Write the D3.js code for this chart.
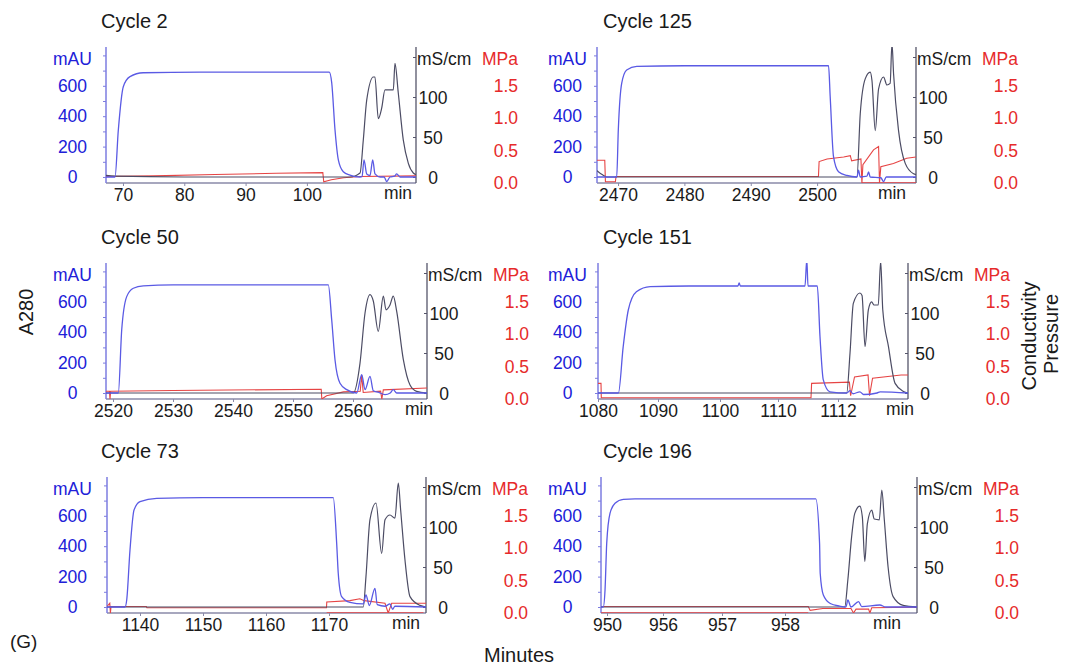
<!DOCTYPE html>
<html>
<head>
<meta charset="utf-8">
<script src="https://cdn.jsdelivr.net/npm/d3@7"></script>
<style>
body{margin:0;background:#fff;}
svg{display:block;font-family:"Liberation Sans",Arial,Helvetica,sans-serif;}
</style>
</head>
<body>
<svg id="chart" width="1072" height="666"></svg>
<script>
// ---- data: [minute, value] ----
const titles = ['Cycle 2', 'Cycle 125', 'Cycle 50', 'Cycle 151', 'Cycle 73', 'Cycle 196'];
const uvTicks = [0, 200, 400, 600];
const condTicks = [0, 50, 100];
const presTicks = [0, 0.5, 1.0, 1.5];

const xTicks2 = [70, 80, 90, 100];
const xTicks125 = [2470, 2480, 2490, 2500];
const xTicks50 = [2520, 2530, 2540, 2550, 2560];
const xTicks151 = [1080, 1090, 1100, 1110, 1112];
const xTicks73 = [1140, 1150, 1160, 1170];
const xTicks196 = [950, 956, 957, 958];

// Cycle 2
const uv2 = [[67.23,0],[68.7,0],[69.24,309],[70.05,594],[71.14,660],[73.31,686],[82.56,690],[103.66,690],[104.05,620],[104.59,309],[105.13,113],[105.94,35],[107.03,13],[108.66,0],[109.0,2],[109.32,113],[109.76,20],[110.3,10],[110.74,113],[111.11,20],[111.93,0],[112.6,0],[113.02,-30],[113.56,0],[114.3,5],[114.65,20],[115.19,0],[117.8,0]];
const cond2 = [[67.23,2],[68.7,1],[80,0],[107.03,0],[108.67,5],[109.2,46],[109.76,96],[110.84,125],[111.1,125],[111.65,73],[112.2,86],[112.74,109],[114.1,109],[114.37,142],[114.91,105],[115.73,46],[116.55,17],[117.36,5],[117.8,3]];
const pres2 = [[67.23,0.1],[75,0.11],[85,0.13],[95,0.15],[102.6,0.16],[102.75,0.02],[104,0.05],[106,0.08],[108.66,0.1],[117.8,0.11]];
const low2 = [];

// Cycle 125
const uv125 = [[2466.83,0],[2469.8,0],[2470.04,309],[2470.55,616],[2471.3,704],[2472.82,728],[2480,732],[2501.72,732],[2501.97,528],[2502.47,134],[2503.22,35],[2504.49,10],[2506.0,0],[2506.24,45],[2506.5,0],[2507.5,5],[2507.75,33],[2508.0,0],[2509.6,-5],[2510.01,-30],[2510.42,0],[2514.9,0]];
const cond125 = [[2466.83,8],[2467.6,3],[2468.3,0],[2506.0,0],[2506.5,79],[2507.26,123],[2508.0,131],[2508.26,121],[2508.76,58],[2509.26,110],[2510.01,125],[2510.52,115],[2511.0,117],[2511.28,167],[2511.52,129],[2512.27,58],[2513.28,17],[2514.53,4],[2514.9,3]];
const pres125 = [[2466.83,0.35],[2468.0,0.35],[2468.1,0.02],[2469.6,0.02],[2469.7,0.1],[2500.2,0.1],[2500.3,0.33],[2501.5,0.37],[2504.0,0.4],[2505.0,0.42],[2505.2,0.34],[2506.6,0.37],[2506.75,0.0],[2506.9,0.28],[2508.5,0.51],[2509.26,0.56],[2509.4,0.0],[2509.6,0.25],[2511.5,0.3],[2513.5,0.38],[2514.9,0.4]];
const low125 = [[2506.75,0],[2514.9,0]];

// Cycle 50
const uv50 = [[2518.83,0],[2520.88,0],[2521.45,416],[2522.28,634],[2523.38,689],[2525.05,705],[2530,711],[2555.88,711],[2556.45,480],[2557.0,217],[2557.83,64],[2558.95,22],[2560.62,0],[2561.45,120],[2562.0,22],[2562.83,109],[2563.38,15],[2564.21,5],[2565.33,-11],[2566.2,0],[2566.71,22],[2567.28,0],[2572.33,0]];
const cond50 = [[2518.83,0],[2560.05,0],[2561.16,37],[2562.0,100],[2562.83,123],[2563.38,115],[2564.21,77],[2565.05,121],[2565.5,104],[2566.16,110],[2566.71,121],[2567.28,102],[2568.38,42],[2569.5,10],[2570.61,2],[2572.33,0]];
const pres50 = [[2518.83,0.12],[2519.4,0.12],[2519.5,0.0],[2519.6,0.12],[2530,0.13],[2554.7,0.15],[2554.8,0.0],[2555.6,0.05],[2558.4,0.11],[2561.2,0.12],[2561.45,0.37],[2561.7,0.1],[2564.6,0.12],[2564.8,0.0],[2565.05,0.14],[2572.33,0.17]];
const low50 = [];

// Cycle 151
const uv151 = [[1080,0],[1083.4,0],[1084.2,305],[1085.05,546],[1086.4,666],[1088.7,700],[1095,704],[1103.1,704],[1103.3,725],[1103.5,704],[1110.9,704],[1110.96,880],[1111.0,704],[1111.31,704],[1111.4,370],[1111.51,86],[1111.73,8],[1112.29,0],[1112.4,15],[1112.5,-5],[1112.73,8],[1112.85,-10],[1113.3,0],[1113.4,8],[1114.33,0]];
const cond151 = [[1080,0],[1112.29,0],[1112.4,50],[1112.51,112],[1112.73,125],[1112.8,122],[1112.9,58],[1113.01,104],[1113.12,114],[1113.2,110],[1113.34,110],[1113.42,165],[1113.49,104],[1113.68,58],[1113.9,12],[1114.18,2],[1114.33,0]];
const pres151 = [[1080,0.24],[1080.5,0.24],[1080.55,0.02],[1111.1,0.02],[1111.12,0.24],[1112.38,0.26],[1112.42,0.05],[1112.55,0.34],[1113.0,0.37],[1113.05,0.05],[1113.15,0.32],[1114.1,0.37],[1114.33,0.37]];
const low151 = [];

// Cycle 73
const uv73 = [[1134.76,0],[1137.62,0],[1137.89,46],[1138.41,375],[1139.05,638],[1140.0,693],[1142.65,715],[1150,719],[1170.68,719],[1171.22,419],[1171.47,222],[1172.01,68],[1173.33,30],[1175.44,20],[1175.87,79],[1176.4,10],[1177.3,123],[1177.66,15],[1178.89,5],[1179.68,20],[1180.1,-15],[1180.47,5],[1185.4,0]];
const cond73 = [[1134.76,0],[1175.44,0],[1175.87,38],[1176.5,109],[1177.46,130],[1178.36,67],[1178.89,109],[1179.68,115],[1180.47,111],[1181.0,155],[1181.38,121],[1182.06,59],[1182.86,13],[1184.44,2],[1185.4,0]];
const pres73 = [[1134.76,0.1],[1135.2,0.15],[1135.3,0.0],[1135.4,0.1],[1141.0,0.1],[1141.1,0.08],[1169.6,0.08],[1169.65,0.17],[1173.33,0.19],[1174.9,0.22],[1175.6,0.19],[1178.89,0.15],[1179.4,0.0],[1179.95,0.15],[1185.4,0.15]];
const low73 = [[1169.63,0],[1185.0,0]];

// Cycle 196
const uv196 = [[949.36,0],[949.6,0],[949.79,112],[949.97,419],[950.32,616],[950.86,682],[951.75,708],[953,711],[958.49,711],[958.55,419],[958.56,222],[958.61,79],[958.72,23],[958.87,6],[958.97,0],[959.0,46],[959.05,0],[959.17,36],[959.22,3],[959.51,13],[959.6,0],[960.1,0]];
const cond196 = [[949.36,0],[958.95,0],[959.0,34],[959.06,88],[959.11,117],[959.19,126],[959.23,113],[959.27,57],[959.31,104],[959.38,121],[959.42,110],[959.5,109],[959.54,146],[959.58,109],[959.64,50],[959.72,13],[959.88,2],[960.1,0]];
const pres196 = [[949.36,0.1],[958.37,0.1],[958.4,0.04],[958.6,0.07],[959.05,0.07],[959.09,0.0],[959.13,0.06],[959.33,0.06],[959.35,0.0],[959.38,0.08],[960.1,0.09]];
const low196 = [[949.36,0],[958.37,0]];

// ---- layout ----
const font = '"Liberation Sans",Arial,Helvetica,sans-serif';
const blueTxt = '#2020d8', blueLine = '#5a5ae4', blueAxis = '#7c7ce0';
const redTxt = '#e62a2a', redLine = '#e64444';
const condLine = '#4c4c64', darkAxis = '#55556a', botAxis = '#8a8aa8';
const uvK = 0.152, condK = 0.8, presK = 65;

const panels = [
  {title: titles[0], uv: uv2, cond: cond2, pres: pres2, low: low2, ticks: xTicks2, left: 106, right: 416, y0: 177, xDom: [67.23, 117.8], xOff: null, minOff: 18, col: 72.5, titleX: 101},
  {title: titles[1], uv: uv125, cond: cond125, pres: pres125, low: low125, ticks: xTicks125, left: 597, right: 916, y0: 177, xDom: [2466.83, 2514.9], xOff: null, minOff: 24, col: 567.5, titleX: 603},
  {title: titles[2], uv: uv50, cond: cond50, pres: pres50, low: low50, ticks: xTicks50, left: 106, right: 427, y0: 393, xDom: [2518.83, 2572.33], xOff: null, minOff: 8, col: 72.5, titleX: 101},
  {title: titles[3], uv: uv151, cond: cond151, pres: pres151, low: low151, ticks: xTicks151, left: 598, right: 908, y0: 393, xDom: [1080, 1090, 1100, 1110, 1112, 1114.33], xOff: [0, 60, 122, 180, 240, 310], minOff: 8, col: 567.5, titleX: 603},
  {title: titles[4], uv: uv73, cond: cond73, pres: pres73, low: low73, ticks: xTicks73, left: 107, right: 426, y0: 607, xDom: [1134.76, 1185.4], xOff: null, minOff: 20, col: 72.5, titleX: 101},
  {title: titles[5], uv: uv196, cond: cond196, pres: pres196, low: low196, ticks: xTicks196, left: 601, right: 917, y0: 607, xDom: [949.36, 950, 956, 957, 958, 960.1], xOff: [0, 6, 62, 121, 184, 316], minOff: 30, col: 567.5, titleX: 603}
];

let svg = d3.select('#chart');
svg.append('rect').attr('width', 1072).attr('height', 666).attr('fill', '#fff');

function drawPanel(p, i){
  let g = svg.append('g');
  let y0 = p.y0, top = y0 - 130, bot = y0 + 6;
  let xr = p.xOff ? p.xOff.map(d => p.left + d) : [p.left, p.right];
  let x = d3.scaleLinear().domain(p.xDom).range(xr);
  let yUV = d3.scaleLinear().domain([0, 600]).range([y0, y0 - 600 * uvK]);
  let yC = d3.scaleLinear().domain([0, 100]).range([y0, y0 - 100 * condK]);
  let yP = d3.scaleLinear().domain([0, 1.5]).range([bot, bot - 1.5 * presK]);

  let clipId = 'clip' + i;
  svg.append('clipPath').attr('id', clipId).append('rect')
    .attr('x', p.left).attr('y', top).attr('width', p.right - p.left).attr('height', bot - top);

  // title
  g.append('text').attr('x', p.titleX).attr('y', y0 - 156).attr('dy', '0.35em')
    .attr('font-size', 20).attr('fill', '#1a1a1a').text(p.title);

  // axis lines
  g.append('line').attr('x1', p.left).attr('x2', p.right).attr('y1', bot).attr('y2', bot)
    .attr('stroke', botAxis).attr('stroke-width', 1.5);
  g.append('line').attr('x1', p.left).attr('x2', p.left).attr('y1', top).attr('y2', bot)
    .attr('stroke', blueAxis).attr('stroke-width', 1.5);
  g.append('line').attr('x1', p.right).attr('x2', p.right).attr('y1', top).attr('y2', bot)
    .attr('stroke', darkAxis).attr('stroke-width', 1.3);

  // small axis ticks
  let la = g.append('g').attr('transform', `translate(${p.left},0)`)
    .call(d3.axisLeft(yUV).tickValues([0, 100, 200, 300, 400, 500, 600, 700, 800]).tickSize(3).tickFormat(''));
  la.select('.domain').remove();
  la.selectAll('line').attr('stroke', blueAxis);
  let ra = g.append('g').attr('transform', `translate(${p.right},0)`)
    .call(d3.axisLeft(yC).tickValues([0, 50, 100, 150]).tickSize(3).tickFormat(''));
  ra.select('.domain').remove();
  ra.selectAll('line').attr('stroke', darkAxis);
  let ba = g.append('g').attr('transform', `translate(0,${bot})`)
    .call(d3.axisBottom(x).tickValues(p.ticks).tickSize(3).tickFormat(d3.format('d')));
  ba.select('.domain').remove();
  ba.selectAll('line').attr('stroke', botAxis);
  ba.selectAll('text').attr('font-size', 17.5).attr('font-family', font).attr('fill', '#1a1a1a')
    .attr('y', 6);
  g.append('text').attr('x', p.right - p.minOff).attr('y', bot + 10).attr('dy', '0.35em')
    .attr('text-anchor', 'middle').attr('font-size', 17.5).attr('fill', '#1a1a1a').text('min');

  // mAU labels
  g.append('text').attr('x', p.col).attr('y', y0 - 118).attr('dy', '0.35em').attr('text-anchor', 'middle')
    .attr('font-size', 17.5).attr('fill', blueTxt).text('mAU');
  g.selectAll('.uvl').data(uvTicks).join('text')
    .attr('x', p.col).attr('y', d => yUV(d)).attr('dy', '0.35em').attr('text-anchor', 'middle')
    .attr('font-size', 17.5).attr('fill', blueTxt).text(d => d);

  // conductivity labels
  g.append('text').attr('x', p.right + 1).attr('y', y0 - 118).attr('dy', '0.35em')
    .attr('font-size', 17.5).attr('fill', '#1a1a1a').text('mS/cm');
  g.selectAll('.cl').data(condTicks).join('text')
    .attr('x', p.right + 17).attr('y', d => yC(d) + 1).attr('dy', '0.35em').attr('text-anchor', 'middle')
    .attr('font-size', 17.5).attr('fill', '#1a1a1a').text(d => d);

  // pressure labels
  g.append('text').attr('x', p.right + 102).attr('y', y0 - 118).attr('dy', '0.35em').attr('text-anchor', 'end')
    .attr('font-size', 17.5).attr('fill', redTxt).text('MPa');
  g.selectAll('.pl').data(presTicks).join('text')
    .attr('x', p.right + 102).attr('y', d => yP(d)).attr('dy', '0.35em').attr('text-anchor', 'end')
    .attr('font-size', 17.5).attr('fill', redTxt).text(d3.format('.1f'));

  // traces
  let plot = g.append('g').attr('clip-path', `url(#${clipId})`);
  let lineP = d3.line().x(d => x(d[0])).y(d => yP(d[1]));
  let lineC = d3.line().curve(d3.curveMonotoneX).x(d => x(d[0])).y(d => yC(d[1]));
  let lineU = d3.line().curve(d3.curveMonotoneX).x(d => x(d[0])).y(d => yUV(d[1]));
  if (p.low.length) plot.append('path').attr('d', lineP(p.low)).attr('fill', 'none')
    .attr('stroke', redLine).attr('stroke-width', 1.6);
  plot.append('path').attr('d', lineP(p.pres)).attr('fill', 'none').attr('stroke', redLine).attr('stroke-width', 1.1);
  plot.append('path').attr('d', lineC(p.cond)).attr('fill', 'none').attr('stroke', condLine).attr('stroke-width', 1.2);
  plot.append('path').attr('d', lineU(p.uv)).attr('fill', 'none').attr('stroke', blueLine).attr('stroke-width', 1.3);
}

panels.forEach((p, i) => drawPanel(p, i));

// figure labels
svg.append('text').attr('transform', 'translate(26,312) rotate(-90)').attr('text-anchor', 'middle').attr('dy', '0.35em')
  .attr('font-size', 20).attr('fill', '#1a1a1a').text('A280');
svg.append('text').attr('transform', 'translate(1029,336) rotate(-90)').attr('text-anchor', 'middle').attr('dy', '0.35em')
  .attr('font-size', 20).attr('fill', '#1a1a1a').text('Conductivity');
svg.append('text').attr('transform', 'translate(1051,334) rotate(-90)').attr('text-anchor', 'middle').attr('dy', '0.35em')
  .attr('font-size', 20).attr('fill', '#1a1a1a').text('Pressure');
svg.append('text').attr('x', 519).attr('y', 655).attr('dy', '0.35em').attr('text-anchor', 'middle')
  .attr('font-size', 20).attr('fill', '#1a1a1a').text('Minutes');
svg.append('text').attr('x', 10).attr('y', 641).attr('dy', '0.35em')
  .attr('font-size', 19).attr('fill', '#1a1a1a').text('(G)');
</script>
</body>
</html>
